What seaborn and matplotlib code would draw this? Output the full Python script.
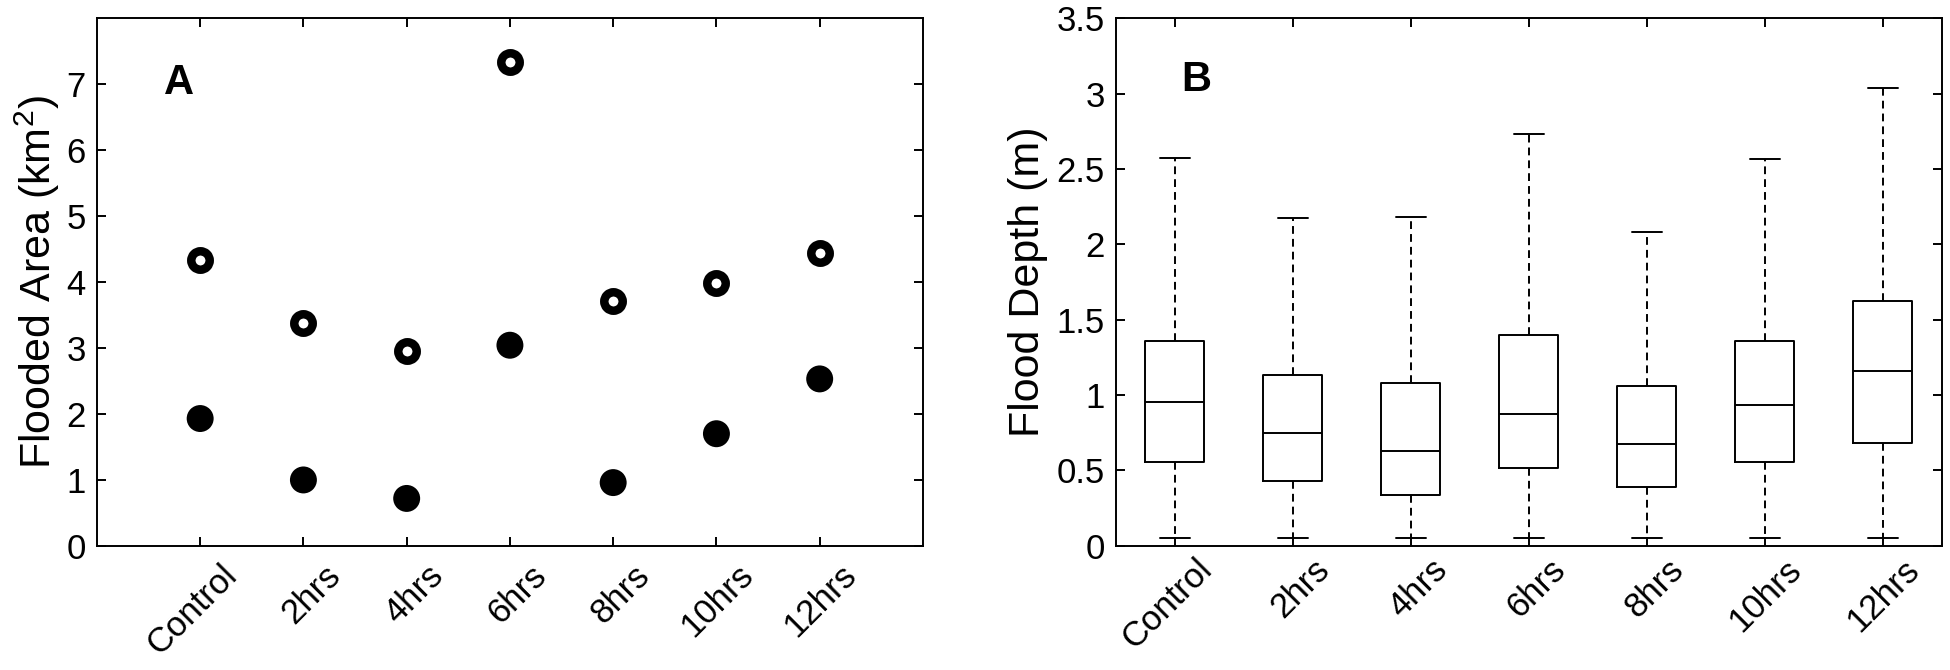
import numpy as np
import pandas as pd
import seaborn as sns
import matplotlib.pyplot as plt
from matplotlib.transforms import ScaledTranslation

# ---------------------------------------------------------
# data
# ---------------------------------------------------------
scenarios = ["Control", "2hrs", "4hrs", "6hrs", "8hrs", "10hrs", "12hrs"]

# panel A: flooded area (km^2), two series
area_open = [4.33, 3.38, 2.96, 7.33, 3.71, 3.98, 4.44]
area_filled = [1.93, 1.00, 0.72, 3.04, 0.96, 1.70, 2.53]

# panel B: flood depth (m), five-number summary per scenario
depth_low = [0.05, 0.05, 0.05, 0.05, 0.05, 0.05, 0.05]
depth_q1 = [0.553, 0.431, 0.337, 0.513, 0.388, 0.558, 0.680]
depth_med = [0.955, 0.745, 0.626, 0.873, 0.672, 0.932, 1.159]
depth_q3 = [1.357, 1.131, 1.077, 1.400, 1.063, 1.357, 1.621]
depth_high = [2.570, 2.173, 2.180, 2.730, 2.080, 2.564, 3.035]

# ---------------------------------------------------------
# style
# ---------------------------------------------------------
sns.set_style("ticks")
plt.rcParams["font.family"] = ["Liberation Sans", "DejaVu Sans"]
plt.rcParams["mathtext.fontset"] = "custom"
plt.rcParams["mathtext.rm"] = "Liberation Sans"
plt.rcParams["mathtext.it"] = "Liberation Sans"
plt.rcParams["text.color"] = "black"
plt.rcParams["axes.labelcolor"] = "black"

tick_fs = 25
label_fs = 31
panel_fs = 30
axis_lw = 1.4

fig = plt.figure(figsize=(19.5, 6.7), dpi=100)
ax1 = fig.add_axes([0.0497, 0.1851, 0.4236, 0.7885])
ax2 = fig.add_axes([0.5722, 0.1855, 0.4236, 0.7872])

# ---------------------------------------------------------
# A: scatter
# ---------------------------------------------------------
sns.scatterplot(x=scenarios, y=area_open, ax=ax1, s=13.3 ** 2,
                facecolor="white", edgecolor="black", linewidth=6.1, zorder=3)
sns.scatterplot(x=scenarios, y=area_filled, ax=ax1, s=19.4 ** 2,
                color="black", edgecolor="none", linewidth=0, zorder=3)
ax1.set_xlim(-1, 7)
ax1.set_ylim(0, 8)
ax1.set_yticks(range(0, 8))
ax1.set_ylabel("Flooded Area (km$^2$)", fontsize=label_fs, labelpad=3)
ax1.text(0.099, 0.877, "A", transform=ax1.transAxes, fontsize=panel_fs,
         fontweight="bold", ha="center", va="center", color="black")

# ---------------------------------------------------------
# B: box plot
# ---------------------------------------------------------
rows = []
for i, name in enumerate(scenarios):
    for v in (depth_low[i], depth_q1[i], depth_med[i], depth_q3[i], depth_high[i]):
        rows.append({"scenario": name, "depth": v})
depth_df = pd.DataFrame(rows)

sns.boxplot(data=depth_df, x="scenario", y="depth", order=scenarios, ax=ax2,
            whis=(0, 100), width=0.5, fill=False, color="black",
            linewidth=1.4, showfliers=False,
            whiskerprops={"linestyle": (0, (4, 2.6))})
ax2.set_xlim(-0.5, 6.5)
ax2.set_ylim(0, 3.5)
ax2.set_yticks(np.arange(0, 3.51, 0.5))
ax2.set_yticklabels(["0", "0.5", "1", "1.5", "2", "2.5", "3", "3.5"])
ax2.set_xlabel("")
ax2.set_ylabel("Flood Depth (m)", fontsize=label_fs, labelpad=6)
ax2.text(0.098, 0.883, "B", transform=ax2.transAxes, fontsize=panel_fs,
         fontweight="bold", ha="center", va="center", color="black")

for ax, xpad in ((ax1, 9), (ax2, 5)):
    for sp in ax.spines.values():
        sp.set_visible(True)
        sp.set_linewidth(axis_lw)
        sp.set_color("black")
    ax.tick_params(direction="in", top=True, right=True, length=6.3,
                   width=axis_lw, labelsize=tick_fs, pad=8, colors="black")
    ax.set_xticks(range(len(scenarios)))
    ax.set_xticklabels(scenarios, rotation=45, ha="right",
                       rotation_mode="anchor", fontsize=tick_fs)
    ax.tick_params(axis="x", pad=xpad)
    # shift labels right so their ends sit past the tick, as in the original
    shift = ScaledTranslation(0.2, 0, fig.dpi_scale_trans)
    for lab in ax.get_xticklabels():
        lab.set_transform(lab.get_transform() + shift)

fig.savefig("out.png", dpi=100, facecolor="white")
